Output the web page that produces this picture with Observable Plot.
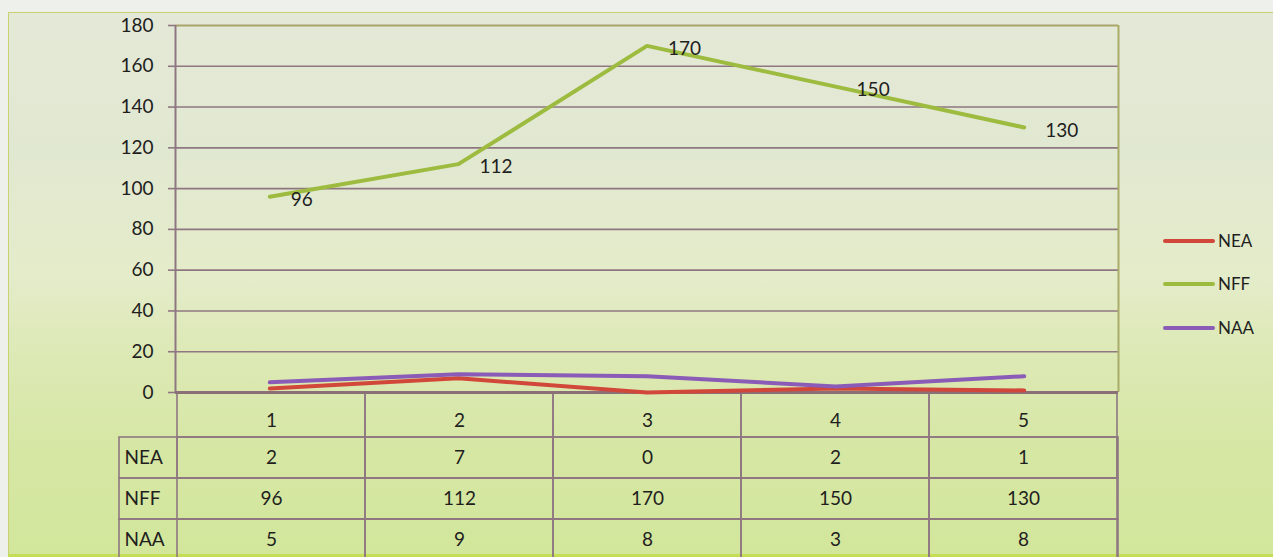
<!DOCTYPE html>
<html>
<head>
<meta charset="utf-8">
<script src="https://cdn.jsdelivr.net/npm/d3@7"></script>
<script src="https://cdn.jsdelivr.net/npm/@observablehq/plot@0.6"></script>
<style>
  html, body { margin: 0; padding: 0; background: #eef0ec; }
  #wrap { position: relative; width: 1273px; height: 557px; overflow: hidden; background: #eef0ec; font-family: Lato, "DejaVu Sans", sans-serif; }
  #panel { position: absolute; left: 8px; top: 12px; width: 1280px; height: 545px;
    border-top: 1.5px solid #c9d26e; border-left: 1.5px solid #c9d26e;
    background: linear-gradient(to bottom, #e4e9d7 0%, #e1e8d1 25%, #e4ecca 48%, #dde9b6 62%, #d6e7a4 80%, #d2e69b 100%); }
  #bottomline { position: absolute; left: 8px; top: 554px; width: 1280px; height: 3px; background: #c6de55; }
  #chart, #table { position: absolute; left: 0; }
  #chart { top: 0; }
  #table { top: 392px; }
  .leg { position: absolute; left: 1163px; height: 18px; }
  .leg .sw { position: absolute; left: 0; top: 7px; width: 52px; height: 4px; border-radius: 2px; }
  .leg .lb { position: absolute; left: 55px; top: -2px; font-size: 17px; color: #221e1e; white-space: nowrap; }
</style>
</head>
<body>
<div id="wrap">
  <div id="panel"></div>
  <div id="bottomline"></div>
  <div id="table"></div>
  <div id="chart"></div>
  <div id="legend"></div>
</div>
<script>
// ---- data ----
const categories = [1, 2, 3, 4, 5];
const seriesNames = ["NEA", "NFF", "NAA"];
const NEA = [2, 7, 0, 2, 1];
const NFF = [96, 112, 170, 150, 130];
const NAA = [5, 9, 8, 3, 8];
const yTicks = [0, 20, 40, 60, 80, 100, 120, 140, 160, 180];
const seriesColors = ["#d1483a", "#9dbb3f", "#8b5bb8"];

const valuesBySeries = { NEA, NFF, NAA };
const rows = seriesNames.flatMap(s => categories.map((c, i) => ({ series: s, cat: c, value: valuesBySeries[s][i] })));
const nffRows = rows.filter(d => d.series === "NFF");

const xDomain = [categories[0] - 0.5, categories[categories.length - 1] + 0.5];
const gridColor = "#8f7782";
const textColor = "#221e1e";
const W = 1273, ML = 175, MR = 155;

// ---- chart ----
const chart = Plot.plot({
  width: W, height: 395,
  marginLeft: ML, marginRight: MR, marginTop: 25, marginBottom: 3,
  x: { domain: xDomain, axis: null },
  y: { domain: [0, 180], axis: null },
  color: { domain: seriesNames, range: seriesColors },
  style: { background: "transparent", fontFamily: "Lato, sans-serif", fontSize: "19px", color: textColor, overflow: "visible" },
  marks: [
    Plot.ruleY(yTicks.filter(d => d > 0 && d < 180), { stroke: gridColor, strokeWidth: 1.6 }),
    Plot.ruleY([180], { stroke: "#a8a46a", strokeWidth: 1.8 }),
    Plot.ruleX([xDomain[1]], { stroke: "#a9ab68", strokeWidth: 2 }),
    Plot.ruleX([xDomain[0]], { stroke: gridColor, strokeWidth: 2 }),
    Plot.axisY({ ticks: yTicks, label: null, tickSize: 7, tickPadding: 15, stroke: gridColor, strokeWidth: 1.6, fill: textColor, fontSize: 19 }),
    Plot.ruleY([0], { stroke: "#8a7076", strokeWidth: 3 }),
    Plot.line(rows, { x: "cat", y: "value", z: "series", stroke: "series", strokeWidth: 4, strokeLinejoin: "miter" }),
    Plot.text(nffRows, { x: "cat", y: "value", text: d => String(d.value), textAnchor: "start", dx: 21, dy: 3, fill: textColor, fontSize: 19 })
  ]
});
document.getElementById("chart").appendChild(chart);

// ---- data table ----
const table = Plot.plot({
  width: W, height: 168,
  marginLeft: ML, marginRight: MR, marginTop: 45, marginBottom: 0,
  x: { type: "band", domain: categories, padding: 0, axis: null },
  y: { type: "band", domain: seriesNames, padding: 0, axis: null },
  style: { background: "transparent", fontFamily: "Lato, sans-serif", fontSize: "19px", color: textColor, overflow: "visible" },
  marks: [
    Plot.cell(seriesNames, { y: d => d, fill: "none", stroke: gridColor, strokeWidth: 1.6, insetLeft: -56 }),
    Plot.cell(rows, { x: "cat", y: "series", fill: "none", stroke: gridColor, strokeWidth: 1.6 }),
    Plot.cell(categories, { x: d => d, y: () => seriesNames[0], fill: "none", stroke: gridColor, strokeWidth: 1.6, insetTop: -45 }),
    Plot.text(rows, { x: "cat", y: "series", text: d => String(d.value), fill: textColor, fontSize: 19 }),
    Plot.axisX({ anchor: "top", label: null, tickSize: 0, tickPadding: 11, fill: textColor, fontSize: 19 }),
    Plot.axisY({ anchor: "left", label: null, tickSize: 0, tickPadding: 51, textAnchor: "start", fill: textColor, fontSize: 19 })
  ]
});
document.getElementById("table").appendChild(table);

// ---- legend ----
const legendTops = [232, 275, 319];
const legend = document.getElementById("legend");
seriesNames.forEach((s, i) => {
  const item = document.createElement("div");
  item.className = "leg";
  item.style.top = legendTops[i] + "px";
  item.innerHTML = `<div class="sw" style="background:${seriesColors[i]}"></div><div class="lb">${s}</div>`;
  legend.appendChild(item);
});
</script>
</body>
</html>
